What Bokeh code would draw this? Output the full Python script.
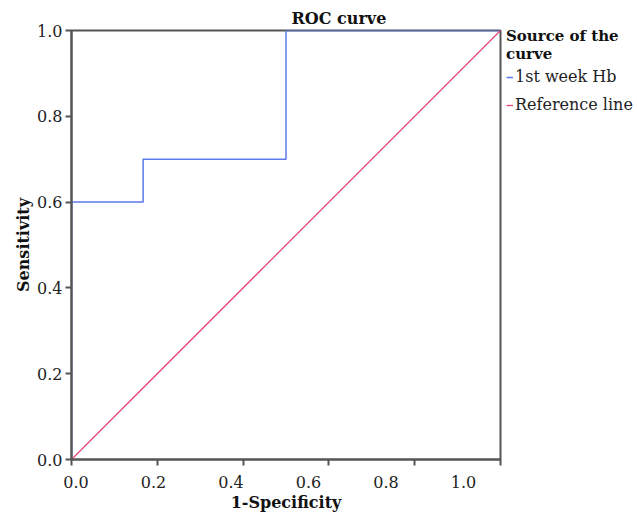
from bokeh.plotting import figure
from bokeh.models import (Range1d, LinearAxis, FixedTicker, Legend, LegendItem,
                          PrintfTickFormatter, CustomLabelingPolicy)
from bokeh.embed import file_html
from bokeh.resources import INLINE

# ROC data (1-Specificity, Sensitivity)
roc_x = [0.0, 0.0, 0.167, 0.167, 0.5, 0.5, 1.0]
roc_y = [0.0, 0.6, 0.6, 0.7, 0.7, 1.0, 1.0]
ref_x = [0.0, 1.0]
ref_y = [0.0, 1.0]
tick_vals = [0.0, 0.2, 0.4, 0.6, 0.8, 1.0]

FONT = "DejaVu Serif"
AX = "#555555"
BLUE = "#5b7aeb"
RED = "#e4457e"

p = figure(frame_width=429, frame_height=429, output_backend="svg", toolbar_location=None,
           x_range=Range1d(0, 1), y_range=Range1d(0, 1),
           x_axis_location=None, y_axis_location=None,
           min_border_left=71, min_border_top=30, min_border_right=0,
           min_border_bottom=58)
p.grid.visible = False
p.outline_line_color = AX
p.outline_line_width = 2
p.background_fill_color = "white"
p.border_fill_color = "white"

r1 = p.line(roc_x, roc_y, line_color=BLUE, line_width=1.5)
r2 = p.line(ref_x, ref_y, line_color=RED, line_width=1.3)

fmt = PrintfTickFormatter(format="%.1f")
# y axis
ya = LinearAxis(ticker=FixedTicker(ticks=tick_vals), axis_label="Sensitivity",
                formatter=fmt)
# x axis (ticks only; its labels are hidden)
no_labels = CustomLabelingPolicy(code="return []")
xa = LinearAxis(ticker=FixedTicker(ticks=tick_vals), major_label_policy=no_labels,
                major_label_standoff=0, formatter=fmt)
# x axis labels (as printed in the source, offset from ticks)
p.extra_x_ranges = {"lbl": Range1d(-0.0116, 1.0955)}
xl = LinearAxis(x_range_name="lbl", ticker=FixedTicker(ticks=tick_vals),
                axis_label="1-Specificity", axis_line_color=None,
                major_tick_line_color=None, formatter=fmt)

for ax in (ya, xa, xl):
    ax.minor_tick_line_color = None
    ax.major_tick_in = 0
    ax.major_label_text_font = FONT
    ax.major_label_text_color = "#222222"
    ax.major_label_text_font_size = "16px"
    ax.axis_label_text_font = FONT
    ax.axis_label_text_font_style = "bold"
    ax.axis_label_text_font_size = "16px"
    ax.axis_label_text_color = "#111111"
for ax in (ya, xa):
    ax.axis_line_color = AX
    ax.axis_line_width = 2
    ax.major_tick_line_color = AX
    ax.major_tick_line_width = 2
    ax.major_tick_out = 6
xa.major_label_text_font_size = "1px"
xl.major_tick_out = 0
xl.major_label_standoff = 6
ya.major_label_standoff = 3
ya.axis_label_standoff = 1
xl.axis_label_standoff = 2

p.add_layout(ya, "left")
p.add_layout(xa, "below")
p.add_layout(xl, "below")

p.title.text = "ROC curve"
p.title.text_font = FONT
p.title.text_font_size = "16px"
p.title.text_font_style = "bold"
p.title.text_color = "#111111"
p.title.align = "left"
p.title.offset = 220
p.title.standoff = 5

legend = Legend(items=[LegendItem(label="1st week Hb", renderers=[r1]),
                       LegendItem(label="Reference line", renderers=[r2])],
                title="Source of the\ncurve",
                title_text_font=FONT, title_text_font_style="bold",
                title_text_font_size="15px", title_standoff=4,
                title_text_color="#111111",
                label_text_font=FONT, label_text_font_size="16px",
                label_text_color="#222222",
                glyph_width=7, glyph_height=14, label_standoff=2,
                spacing=9, padding=0, margin=0,
                border_line_color=None, background_fill_alpha=0,
                location=(6, 345))
p.add_layout(legend, "right")

open("out.html", "w").write(file_html(p, INLINE))
